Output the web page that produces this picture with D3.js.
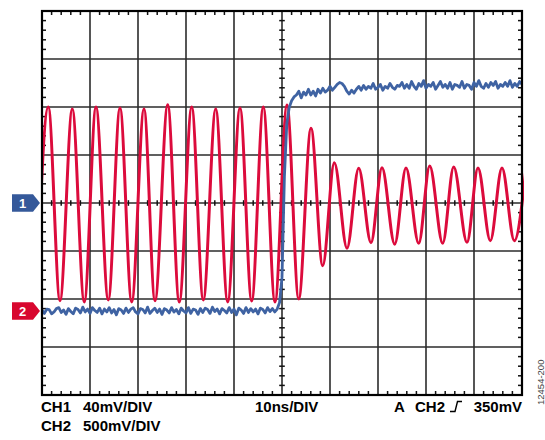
<!DOCTYPE html>
<html><head><meta charset="utf-8">
<script src="https://cdn.jsdelivr.net/npm/d3@7"></script>
<style>body{margin:0;background:#fff}svg{display:block}</style>
</head><body><svg id="c" width="545" height="440"></svg>
<script>
// ---- scope settings ----
const timePerDiv = 10;      // ns/DIV
const ch1PerDiv = 40;       // mV/DIV
const ch2PerDiv = 500;      // mV/DIV
const ch2Offset = -2.25;    // CH2 ground marker, divisions from centre
const labelsLeft = ["CH1", "40mV/DIV", "CH2", "500mV/DIV"];
const labelTime = "10ns/DIV";
const labelTrig = ["A", "CH2", "350mV"];
const figId = "12454-200";

// ---- CH1 (red): extrema of the waveform, time in ns, value in mV ----
const ch1Time = [-51.19,-48.69,-46.25,-43.69,-41.19,-38.75,-36.19,-33.75,-31.31,-28.75,
  -26.46,-23.81,-21.40,-18.81,-16.40,-13.81,-11.31,-8.75,-6.31,-3.90,
  -1.46,1.04,3.48,6.04,8.48,10.90,13.54,15.98,18.54,20.83,
  23.48,25.83,28.48,30.77,33.48,35.77,38.54,40.83,43.40,45.83,48.40,50.83];
const ch1Volt = [-81.7,80,-81.4,78.3,-82.5,80,-80.8,79.2,-82.5,78.3,
  -81.4,81.9,-82.5,80,-80.8,78.3,-82.5,79.2,-81.7,80,
  -82.5,81.7,-80,62.3,-52.3,33.6,-37.7,28.9,-33.1,29.4,
  -34.4,29.2,-33.6,30.8,-33.6,30,-32.8,29.2,-31.4,29.2,-31.4,29.2];

// ---- CH2 (blue): samples every 0.5 ns from -50 ns, value in mV ----
const ch2Start = -50, ch2Step = 0.5;
const ch2Volt = [
  10,-25,20,15,-30,-10,25,35,-15,10,-35,25,-5,-30,30,15,-20,40,-10,20,
  -25,35,5,-15,30,-30,20,-10,35,-20,15,-40,25,10,-25,30,-15,20,35,-10,
  -30,25,15,-20,40,-25,5,30,-15,20,-35,25,10,-20,35,-10,15,-30,30,0,
  -20,35,-25,20,10,-35,25,-15,30,15,-25,40,-5,20,-30,25,5,-20,35,-15,
  20,-40,30,10,-25,35,-15,25,-10,20,-30,30,15,-20,35,-5,25,-10,
  20,90,350,1400,1950,2120,2190,2230,
  2250,2290,2220,2280,2250,2310,2250,
  2290,2240,2310,2270,2320,2280,2300,2340,2300,2330,
  2360,2380,2370,2340,
  2290,2260,2300,2270,2310,
  2340,2300,2350,2310,2340,2320,2370,2310,2330,2360,2300,2340,2320,2370,2330,2310,2350,
  2340,2380,2320,2360,2320,2390,2340,2310,2370,2340,2400,2320,2360,2340,2380,2310,2350,2390,2330,2360,
  2320,2380,2310,2360,2350,2330,2390,2320,2360,2350,2310,2380,2340,2400,2340,2320,2370,2330,2380,2350,
  2390,2320,2360,2340,2380,2340,2400,2330,2370,2340,2390,2360];

// ---- layout ----
const svg = d3.select("#c");
const L = 42, R = 522, T = 11, B = 395;
const nx = 10, ny = 8;
const x = d3.scaleLinear().domain([-nx/2*timePerDiv, nx/2*timePerDiv]).range([L, R]);
const y1 = d3.scaleLinear().domain([-ny/2*ch1PerDiv, ny/2*ch1PerDiv]).range([B, T]);
const y2 = d3.scaleLinear()
  .domain([(-ny/2 - ch2Offset)*ch2PerDiv, (ny/2 - ch2Offset)*ch2PerDiv]).range([B, T]);

const xMajor = d3.range(1, nx).map(i => -nx/2*timePerDiv + i*timePerDiv);
const yMajor = d3.range(1, ny).map(i => -ny/2*ch1PerDiv + i*ch1PerDiv);
const xMinor = d3.range(0, nx*5+1).filter(i => i % 5).map(i => -nx/2*timePerDiv + i*timePerDiv/5);
const yMinor = d3.range(0, ny*5+1).filter(i => i % 5).map(i => -ny/2*ch1PerDiv + i*ch1PerDiv/5);

const gridG = svg.append("g");
gridG.selectAll("line.vx").data(xMajor).join("line")
  .attr("x1", d => x(d)).attr("x2", d => x(d)).attr("y1", T).attr("y2", B)
  .attr("stroke", "#2b2b2b").attr("stroke-width", 1.6);
gridG.selectAll("line.hy").data(yMajor).join("line")
  .attr("y1", d => y1(d)).attr("y2", d => y1(d)).attr("x1", L).attr("x2", R)
  .attr("stroke", "#2b2b2b").attr("stroke-width", 1.6);

const tickAttr = sel => sel.attr("stroke", "#111").attr("stroke-width", 1.5);
const tl = 4, tc = 2.8;
const xm = x(0), ym = y1(0);
xMinor.forEach(v => {
  const px = x(v);
  tickAttr(gridG.append("line").attr("x1", px).attr("x2", px).attr("y1", T).attr("y2", T + tl));
  tickAttr(gridG.append("line").attr("x1", px).attr("x2", px).attr("y1", B).attr("y2", B - tl));
  tickAttr(gridG.append("line").attr("x1", px).attr("x2", px).attr("y1", ym - tc).attr("y2", ym + tc));
});
yMinor.forEach(v => {
  const py = y1(v);
  tickAttr(gridG.append("line").attr("y1", py).attr("y2", py).attr("x1", L).attr("x2", L + tl));
  tickAttr(gridG.append("line").attr("y1", py).attr("y2", py).attr("x1", R).attr("x2", R - tl));
  tickAttr(gridG.append("line").attr("y1", py).attr("y2", py).attr("x1", xm - tc).attr("x2", xm + tc));
});

svg.append("clipPath").attr("id", "plot").append("rect")
  .attr("x", L).attr("y", T).attr("width", R - L + 2).attr("height", B - T);

const ch1 = ch1Time.map((t, i) => [t, ch1Volt[i]]);
svg.append("path").attr("clip-path", "url(#plot)")
  .attr("d", d3.line().x(d => x(d[0])).y(d => y1(d[1])).curve(d3.curveMonotoneX)(ch1))
  .attr("fill", "none").attr("stroke", "#DC0B3C").attr("stroke-width", 3);

const ch2 = ch2Volt.map((v, i) => [ch2Start + i*ch2Step, v]);
svg.append("path").attr("clip-path", "url(#plot)")
  .attr("d", d3.line().x(d => x(d[0])).y(d => y2(d[1]))(ch2))
  .attr("fill", "none").attr("stroke", "#3F63A3").attr("stroke-width", 2.8)
  .attr("stroke-linejoin", "round");

svg.append("rect").attr("x", L).attr("y", T).attr("width", R - L).attr("height", B - T)
  .attr("fill", "none").attr("stroke", "#000").attr("stroke-width", 2.2);

function marker(cy, color, label) {
  const h = 8.7;
  svg.append("path")
    .attr("d", `M12,${cy - h}H33L40,${cy}L33,${cy + h}H12Z`).attr("fill", color);
  svg.append("text").attr("x", 22.5).attr("y", cy + 4.5).attr("text-anchor", "middle")
    .attr("fill", "#fff").attr("font-family", "Liberation Sans, Arial, sans-serif")
    .attr("font-weight", "bold").attr("font-size", 13).text(label);
}
marker(y1(0), "#35599A", "1");
marker(y2(0), "#D8072F", "2");

const font = "Liberation Sans, Arial, sans-serif";
const txt = (xx, yy, s, anchor) => svg.append("text").attr("x", xx).attr("y", yy)
  .attr("font-family", font).attr("font-weight", "bold").attr("font-size", 15)
  .attr("fill", "#000").attr("text-anchor", anchor || "start").text(s);
txt(41, 412, labelsLeft[0]);
txt(83, 412, labelsLeft[1]);
txt(41, 431, labelsLeft[2]);
txt(83, 431, labelsLeft[3]);
txt(255, 412, labelTime);
txt(394, 412, labelTrig[0]);
txt(415, 412, labelTrig[1]);
txt(522, 412, labelTrig[2], "end");
svg.append("path").attr("d", "M450,411.5H455L457.5,401.5H462")
  .attr("fill", "none").attr("stroke", "#000").attr("stroke-width", 1.4);

svg.append("text").attr("transform", "translate(543.5,405) rotate(-90)")
  .attr("font-family", font).attr("font-size", 9.5).attr("fill", "#444").text(figId);
</script></body></html>
